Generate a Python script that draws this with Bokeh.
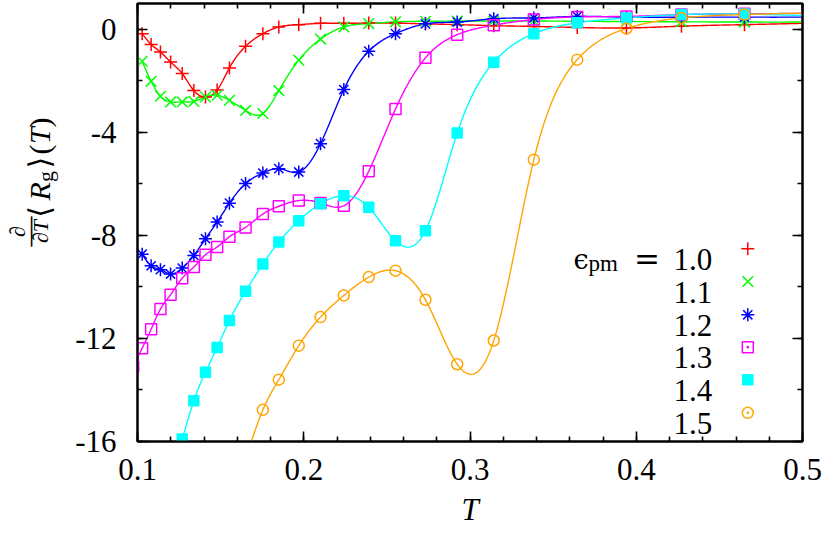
import numpy as np
from bokeh.plotting import figure
from bokeh.layouts import row
from bokeh.models import (Range1d, FixedTicker, LinearAxis, Label, PrintfTickFormatter,
                          CustomJSTickFormatter)
from bokeh.core.properties import value
from bokeh.embed import file_html
from bokeh.resources import INLINE

# ---------------- data ----------------
T_grid = [0.1028, 0.1082, 0.1138, 0.1199, 0.1269, 0.1339, 0.1409, 0.1479,
          0.1553, 0.1650, 0.1754, 0.1850, 0.1970, 0.2101, 0.2241, 0.2391,
          0.2552, 0.2732, 0.2923, 0.3143, 0.3384, 0.3645, 0.3941, 0.4272,
          0.4651]
T_low = 0.0974
T_high = 0.5060

eps_labels = ["1.0", "1.1", "1.2", "1.3", "1.4", "1.5"]

T_10 = T_grid + [T_high]
d_10 = [-0.17, -0.59, -0.88, -1.27, -1.72, -2.38, -2.63, -2.36, -1.50, -0.66,
        -0.17, 0.09, 0.18, 0.23, 0.23, 0.24, 0.24, 0.21, 0.18, 0.14, 0.11,
        0.07, 0.05, 0.12, 0.18, 0.24]

T_11 = T_grid + [T_high]
d_11 = [-1.24, -2.02, -2.60, -2.82, -2.82, -2.80, -2.63, -2.56, -2.76, -3.15,
        -3.27, -2.38, -1.20, -0.38, 0.09, 0.22, 0.29, 0.31, 0.32, 0.32, 0.32,
        0.31, 0.30, 0.29, 0.28, 0.28]

T_12 = T_grid + [T_high]
d_12 = [-8.73, -9.18, -9.33, -9.50, -9.27, -8.78, -8.13, -7.48, -6.75, -5.99,
        -5.58, -5.41, -5.54, -4.44, -2.34, -0.85, -0.17, 0.21, 0.28, 0.41,
        0.44, 0.50, 0.47, 0.47, 0.47, 0.47]

T_13 = [T_low] + T_grid + [T_high]
d_13 = [-13.10, -12.38, -11.64, -10.86, -10.30, -9.66, -9.23, -8.75, -8.45,
        -8.05, -7.69, -7.17, -6.87, -6.65, -6.74, -6.85, -5.51, -3.09, -1.11,
        -0.21, 0.16, 0.38, 0.48, 0.50, 0.57, 0.60, 0.62]

T_14 = T_grid[3:] + [T_high]
d_14 = [-17.40, -15.90, -14.42, -13.31, -12.35, -11.30, -10.17, -9.11, -8.26,
        -7.43, -6.77, -6.46, -6.91, -8.21, -7.82, -4.03, -1.28, -0.17, 0.25,
        0.44, 0.57, 0.59, 0.52]

T_15 = T_grid[9:] + [T_high]
d_15 = [-16.70, -14.77, -13.60, -12.28, -11.17, -10.33, -9.62, -9.37, -10.50,
        -13.00, -12.08, -5.06, -1.18, 0.03, 0.44, 0.57, 0.64]

x_ticks = [0.1, 0.2, 0.3, 0.4, 0.5]
x_minor = [0.10, 0.12, 0.14, 0.16, 0.18, 0.20, 0.22, 0.24, 0.26, 0.28, 0.30,
           0.32, 0.34, 0.36, 0.38, 0.40, 0.42, 0.44, 0.46, 0.48, 0.50]
y_ticks = [-16, -12, -8, -4, 0]
y_minor = [-16, -14, -12, -10, -8, -6, -4, -2, 0]

# ---------------- layout / styling ----------------
FONT = "Liberation Serif"
H = 534
LW = 60                       # width of the strip holding the y title
W = 830 - LW                  # main figure width
PL, PR, PT, PB = 137, 802, 3, 441    # frame edges in page px
XMIN, XMAX, YMIN, YMAX = 0.1, 0.5, -16.0, 1.0

series = [
    (T_10, d_10, "#ff0000", "cross", 13, "cross"),
    (T_11, d_11, "#00ff00", "x", 15, "x"),
    (T_12, d_12, "#0000ff", "asterisk", 13, "asterisk"),
    (T_13, d_13, "#ff00ff", "square", 11, "square_dot"),
    (T_14, d_14, "#00ffff", "square", 10, "square"),
    (T_15, d_15, "#ffa500", "circle", 11, "circle_dot"),
]
filled = [False, False, False, False, True, False]


def spline(x, y, n=500):
    """natural cubic spline through the data (like gnuplot csplines)"""
    x = np.asarray(x, float)
    y = np.asarray(y, float)
    m = len(x)
    h = np.diff(x)
    A = np.zeros((m, m))
    r = np.zeros(m)
    A[0, 0] = A[-1, -1] = 1.0
    for i in range(1, m - 1):
        A[i, i - 1] = h[i - 1]
        A[i, i] = 2 * (h[i - 1] + h[i])
        A[i, i + 1] = h[i]
        r[i] = 6 * ((y[i + 1] - y[i]) / h[i] - (y[i] - y[i - 1]) / h[i - 1])
    M = np.linalg.solve(A, r)
    xs = np.linspace(x[0], x[-1], n)
    idx = np.clip(np.searchsorted(x, xs) - 1, 0, m - 2)
    x0, x1 = x[idx], x[idx + 1]
    hh = x1 - x0
    a = (x1 - xs) / hh
    b = (xs - x0) / hh
    ys = a * y[idx] + b * y[idx + 1] + ((a ** 3 - a) * M[idx] + (b ** 3 - b) * M[idx + 1]) * hh ** 2 / 6
    return xs, ys


def X(page_x):
    return XMIN + (page_x - PL) / (PR - PL) * (XMAX - XMIN)


def Y(page_y):
    return YMAX - (page_y - PT) / (PB - PT) * (YMAX - YMIN)


p = figure(width=W, height=H, x_range=Range1d(XMIN, XMAX), y_range=Range1d(YMIN, YMAX),
           output_backend="svg", toolbar_location=None,
           min_border_left=PL - LW, min_border_right=LW + W - PR, min_border_top=PT,
           min_border_bottom=H - PB)
p.xgrid.visible = False
p.ygrid.visible = False
p.outline_line_color = "black"
p.outline_line_width = 2
p.background_fill_color = "white"
p.border_fill_color = "white"

blank = CustomJSTickFormatter(code="return ''")


def style_axis(ax, ticks, minor, show_labels, standoff, fmt):
    ax.ticker = FixedTicker(ticks=ticks, minor_ticks=minor)
    ax.axis_line_color = "black"
    ax.axis_line_width = 2
    ax.major_tick_line_width = 1.6
    ax.minor_tick_line_width = 1.6
    ax.major_tick_in = 10
    ax.major_tick_out = 0
    ax.minor_tick_in = 5
    ax.minor_tick_out = 0
    ax.major_label_text_font = FONT
    ax.major_label_text_color = "black"
    if show_labels:
        ax.formatter = PrintfTickFormatter(format=fmt)
        ax.major_label_text_font_size = "31px"
        ax.major_label_standoff = standoff
    else:
        ax.formatter = blank
        ax.major_label_text_font_size = "1px"
        ax.major_label_standoff = 0


style_axis(p.xaxis[0], x_ticks, x_minor, True, 17, "%.1f")
style_axis(p.yaxis[0], y_ticks, y_minor, True, 21, "%d")
p.xaxis[0].axis_label = "T"
p.xaxis[0].axis_label_text_font = FONT
p.xaxis[0].axis_label_text_font_style = "italic"
p.xaxis[0].axis_label_text_font_size = "31px"
p.xaxis[0].axis_label_text_color = "black"
p.xaxis[0].axis_label_standoff = 9

top = LinearAxis()
style_axis(top, x_ticks, x_minor, False, 0, "")
p.add_layout(top, "above")
right = LinearAxis()
style_axis(right, y_ticks, y_minor, False, 0, "")
p.add_layout(right, "right")

# ---------------- curves and points ----------------
for (tt, dd, col, mk, sz, _), fl in zip(series, filled):
    xs, ys = spline(tt, dd)
    p.line(xs, ys, line_color=col, line_width=1.4)
for (tt, dd, col, mk, sz, _), fl in zip(series, filled):
    p.scatter(tt, dd, marker=mk, size=sz, line_color=col, line_width=1.5,
              fill_color=col if fl else None)

# ---------------- legend (gnuplot-like: text left, symbol right) ----------------
row_page_y = [248.3, 281.0, 314.3, 346.7, 379.3, 412.3]
for (tt, dd, col, mk, sz, lmk), fl, lab, ry in zip(series, filled, eps_labels, row_page_y):
    p.scatter([X(747.3)], [Y(ry)], marker=lmk, size=sz, line_color=col, line_width=1.5,
              fill_color=col if fl else None)
    p.add_layout(Label(x=X(711.7), y=Y(ry + 10.5), text=lab, text_align="right",
                       text_baseline="alphabetic", text_font=FONT,
                       text_font_size="31px", text_color="black"))
p.add_layout(Label(x=X(573), y=Y(248.3 + 10.5), text="\u03f5", text_align="left",
                   text_baseline="alphabetic", text_font="DejaVu Serif",
                   text_font_size="27px", text_color="black"))
p.add_layout(Label(x=X(588), y=Y(248.3 + 14.5), text="pm", text_align="left",
                   text_baseline="alphabetic", text_font=FONT,
                   text_font_size="23px", text_color="black"))
p.add_layout(Label(x=X(646.5), y=Y(248.3 + 10.5), text="=", text_align="center",
                   text_baseline="alphabetic", text_font="DejaVu Serif",
                   text_font_size="31px", text_color="black"))

# ---------------- y title in its own narrow strip ----------------
q = figure(width=LW, height=H, x_range=Range1d(0, LW), y_range=Range1d(0, H),
           output_backend="svg", toolbar_location=None,
           x_axis_location=None, y_axis_location=None,
           min_border=0, min_border_left=0, min_border_right=0,
           min_border_top=0, min_border_bottom=0)
q.xgrid.visible = False
q.ygrid.visible = False
q.outline_line_color = None
q.background_fill_color = "white"
q.border_fill_color = "white"

rot = np.pi / 2
ylab = [
    ("\u2202", 17, 278, "22px", "italic", FONT),
    ("\u2014", 28, 278, "30px", "normal", FONT),
    ("\u2202T", 40, 278, "22px", "italic", FONT),
    ("\u27e8", 39, 254, "30px", "normal", "DejaVu Serif"),
    ("R", 39, 229, "30px", "italic", FONT),
    ("g", 45, 211, "22px", "normal", FONT),
    ("\u27e9", 39, 194, "30px", "normal", "DejaVu Serif"),
    ("(", 39, 178, "30px", "normal", FONT),
    ("T", 39, 161, "30px", "italic", FONT),
    (")", 39, 145, "30px", "normal", FONT),
]
for txt, px, py, fs, st, fnt in ylab:
    q.text(x=[px], y=[H - py], text=[txt], angle=rot, text_align="center",
           text_baseline="alphabetic", text_font=value(fnt), text_font_style=st,
           text_font_size=value(fs), text_color="black")

layout = row(q, p)
open("out.html", "w").write(file_html(layout, INLINE))
